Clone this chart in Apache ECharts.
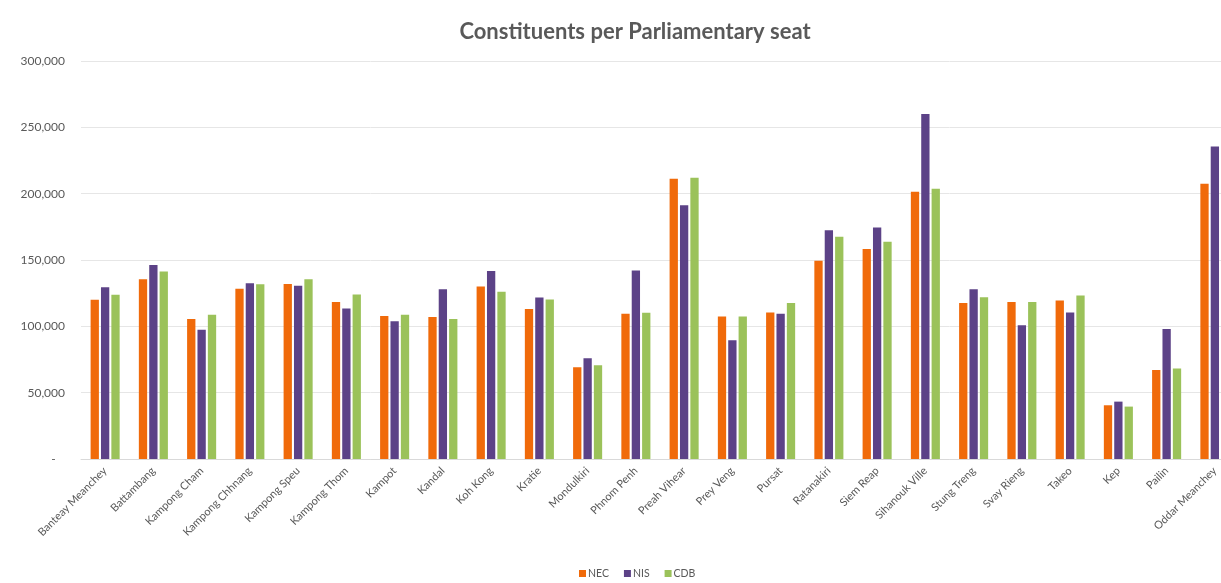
<!DOCTYPE html>
<html>
<head>
<meta charset="utf-8">
<title>Constituents per Parliamentary seat</title>
<script src="https://cdn.jsdelivr.net/npm/echarts@6/dist/echarts.min.js"></script>
<style>
  html, body { margin: 0; padding: 0; background: #ffffff; overflow: hidden; }
  /* the plot runs a little past the right edge of the window, so the last group is clipped */
  #chart { width: 1239px; height: 583px; }
</style>
</head>
<body>
<div id="chart"></div>
<script>
// Provinces of Cambodia
const provinces = [
  'Banteay Meanchey', 'Battambang', 'Kampong Cham', 'Kampong Chhnang', 'Kampong Speu',
  'Kampong Thom', 'Kampot', 'Kandal', 'Koh Kong', 'Kratie', 'Mondulkiri', 'Phnom Penh',
  'Preah Vihear', 'Prey Veng', 'Pursat', 'Ratanakiri', 'Siem Reap', 'Sihanouk Ville',
  'Stung Treng', 'Svay Rieng', 'Takeo', 'Kep', 'Pailin', 'Oddar Meanchey'
];

// Constituents per parliamentary seat, by population source
const necValues = [
  120000, 135500, 105500, 128250, 132000, 118250, 107750, 107000, 130000, 113000, 69250, 109500,
  211250, 107500, 110500, 149500, 158250, 201500, 117500, 118250, 119500, 40500, 67000, 207500
];
const nisValues = [
  129500, 146250, 97500, 132500, 130500, 113500, 103750, 128000, 141750, 121750, 76000, 142000,
  191250, 89500, 109500, 172500, 174500, 260000, 128000, 100750, 110500, 43250, 98000, 235500
];
const cdbValues = [
  123750, 141250, 108750, 131750, 135500, 124000, 108750, 105500, 126000, 120250, 70750, 110250,
  212000, 107500, 117500, 167500, 163750, 203750, 122000, 118250, 123250, 39500, 68250, 210000
];

const seriesNames = ['NEC', 'NIS', 'CDB'];
const seriesColors = ['#F06A0A', '#5C4287', '#9BC25A'];
const yTicks = { min: 0, max: 300000, interval: 50000 };

const textColor = '#595959';
const fontFamily = 'Lato, "Open Sans", "Noto Sans", sans-serif';

const chart = echarts.init(document.getElementById('chart'), null, { renderer: 'canvas' });

const seriesData = [necValues, nisValues, cdbValues];

chart.setOption({
  animation: false,
  backgroundColor: '#ffffff',
  title: {
    text: 'Constituents per Parliamentary seat',
    left: 630,
    textAlign: 'center',
    top: 16,
    textStyle: {
      color: textColor,
      fontSize: 22,
      fontWeight: 'bold',
      fontFamily: fontFamily
    }
  },
  legend: {
    bottom: -1,
    left: 574,
    itemWidth: 7,
    itemHeight: 7,
    itemGap: 15,
    icon: 'rect',
    textStyle: { color: textColor, fontSize: 10.5, fontFamily: fontFamily, padding: [0, 0, 0, -3] },
    data: seriesNames
  },
  grid: {
    left: 81,
    right: 0,
    top: 61,
    bottom: 124,
    containLabel: false
  },
  xAxis: {
    type: 'category',
    data: provinces,
    axisLine: { show: true, lineStyle: { color: '#d9d9d9' } },
    axisTick: { show: false },
    axisLabel: {
      rotate: 45,
      interval: 0,
      margin: 10,
      color: textColor,
      fontSize: 11,
      fontFamily: fontFamily
    }
  },
  yAxis: {
    type: 'value',
    min: yTicks.min,
    max: yTicks.max,
    interval: yTicks.interval,
    axisLine: { show: false },
    axisTick: { show: false },
    splitLine: { show: true, lineStyle: { color: '#e6e6e6', width: 1 } },
    axisLabel: {
      margin: 16,
      color: textColor,
      fontSize: 12,
      fontFamily: fontFamily,
      formatter: function (v) {
        return v === 0 ? '-   ' : v.toLocaleString('en-US');
      }
    }
  },
  series: seriesNames.map(function (name, i) {
    return {
      name: name,
      type: 'bar',
      data: seriesData[i],
      barWidth: 8.3,
      barGap: '25%',
      itemStyle: { color: seriesColors[i] }
    };
  })
});
</script>
</body>
</html>
